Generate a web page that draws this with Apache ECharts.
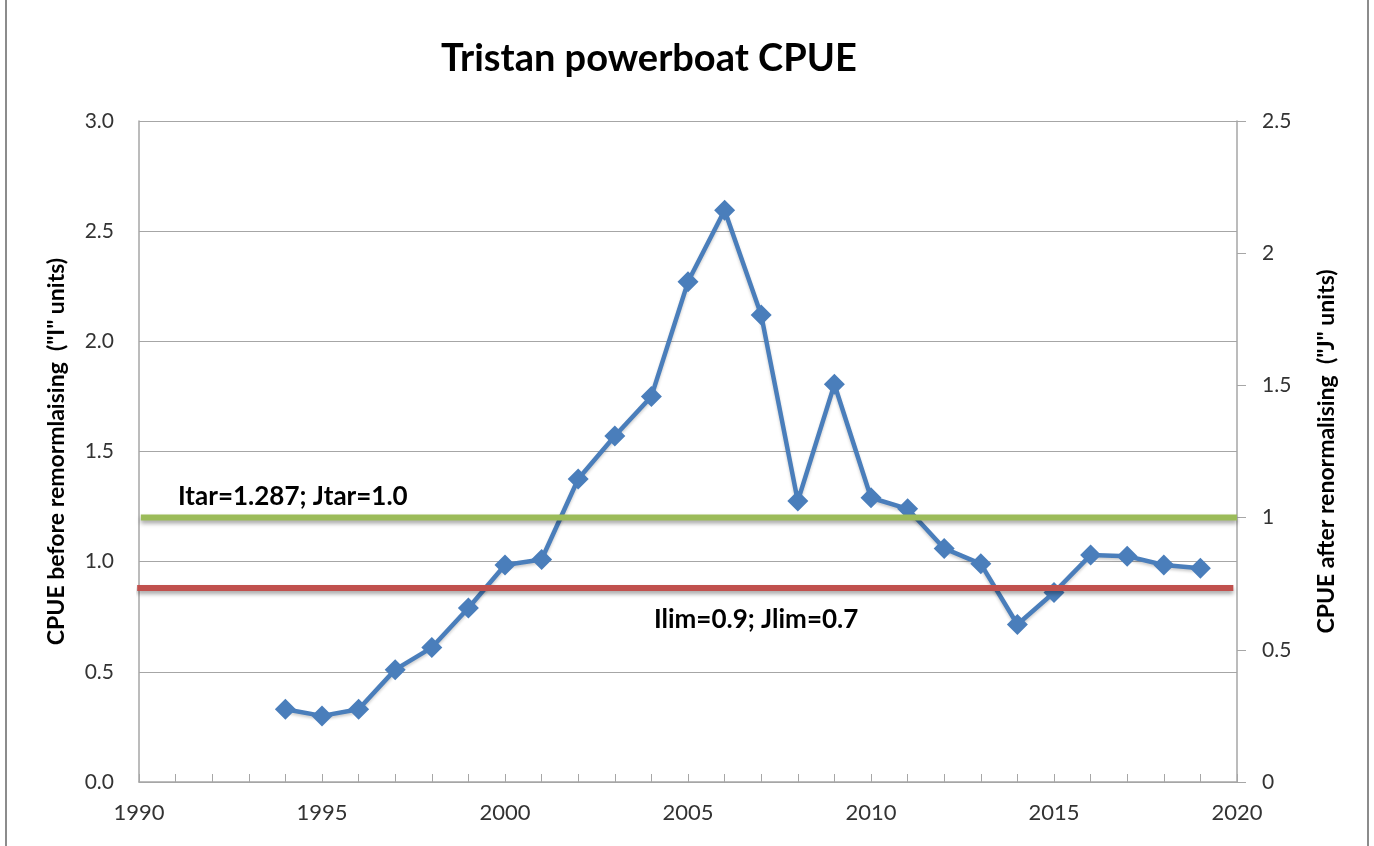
<!DOCTYPE html>
<html>
<head>
<meta charset="utf-8">
<script src="https://cdn.jsdelivr.net/npm/echarts@6/dist/echarts.min.js"></script>
<style>
  html, body { margin: 0; padding: 0; background: #fff; }
  #chart { width: 1374px; height: 846px; }
</style>
</head>
<body>
<div id="chart"></div>
<script>
// CPUE, left axis ("I" units)
const years = [1994, 1995, 1996, 1997, 1998, 1999, 2000, 2001, 2002, 2003, 2004, 2005, 2006,
  2007, 2008, 2009, 2010, 2011, 2012, 2013, 2014, 2015, 2016, 2017, 2018, 2019];
const cpue = [0.33, 0.30, 0.33, 0.51, 0.61, 0.79, 0.985, 1.01, 1.375, 1.57, 1.75, 2.27, 2.595,
  2.12, 1.275, 1.805, 1.29, 1.24, 1.06, 0.99, 0.715, 0.86, 1.03, 1.025, 0.985, 0.97];

// reference lines: target on the right axis (J), limit on the left axis (I)
const tarYears = [1990.05, 2020];
const tarJ = 1.0;
const limYears = [1989.95, 2019.9];
const limI = 0.88;

const leftTicks = [0, 0.5, 1.0, 1.5, 2.0, 2.5, 3.0];
const rightTicks = [0, 0.5, 1, 1.5, 2, 2.5];

const grey = '#a6a6a6';
const font = 'Lato, "Open Sans", sans-serif';

const chart = echarts.init(document.getElementById('chart'));

chart.setOption({
  animation: false,
  title: {
    text: 'Tristan powerboat CPUE',
    left: 436,
    top: 35,
    textStyle: { fontFamily: font, fontSize: 38, fontWeight: 'bold', color: '#000' }
  },
  grid: { left: 139, right: 137, top: 121, bottom: 64 },
  xAxis: {
    type: 'value',
    min: 1990,
    max: 2020,
    interval: 1,
    axisLine: { lineStyle: { color: grey, width: 1.5 } },
    axisTick: { show: true, inside: true, length: 8, lineStyle: { color: grey } },
    axisLabel: {
      margin: 20,
      fontFamily: font, fontSize: 22, color: '#333',
      formatter: v => (v % 5 === 0 ? String(v) : '')
    },
    splitLine: { show: false }
  },
  yAxis: [
    {
      type: 'value',
      min: leftTicks[0],
      max: leftTicks[leftTicks.length - 1],
      interval: 0.5,
      name: 'CPUE before remormlaising  ("I" units)',
      nameLocation: 'middle',
      nameGap: 71,
      nameTextStyle: { fontFamily: font, fontSize: 23, fontWeight: 'bold', color: '#000' },
      axisLine: { show: true, lineStyle: { color: grey, width: 1.5 } },
      axisTick: { show: false },
      axisLabel: { margin: 25, fontFamily: font, fontSize: 21, color: '#333', formatter: v => v.toFixed(1) },
      splitLine: { show: true, lineStyle: { color: grey, width: 1.2 } }
    },
    {
      type: 'value',
      min: rightTicks[0],
      max: rightTicks[rightTicks.length - 1],
      interval: 0.5,
      name: 'CPUE after renormalising  ("J" units)',
      nameLocation: 'middle',
      nameGap: 78,
      nameRotate: 90,
      nameTextStyle: { fontFamily: font, fontSize: 23, fontWeight: 'bold', color: '#000' },
      axisLine: { show: true, lineStyle: { color: grey, width: 1.5 } },
      axisTick: { show: true, length: 9, lineStyle: { color: grey } },
      axisLabel: { margin: 25, fontFamily: font, fontSize: 21, color: '#333' },
      splitLine: { show: false }
    }
  ],
  series: [
    {
      name: 'CPUE',
      type: 'line',
      yAxisIndex: 0,
      data: years.map((y, i) => [y, cpue[i]]),
      symbol: 'diamond',
      symbolSize: [21, 21],
      lineStyle: { color: '#4a7ebb', width: 4.5, shadowColor: 'rgba(0,0,0,0.2)', shadowBlur: 3, shadowOffsetY: 2 },
      itemStyle: { color: '#4a7ebb' },
      z: 2
    },
    {
      name: 'Itar',
      type: 'line',
      yAxisIndex: 1,
      data: tarYears.map(x => [x, tarJ]),
      symbol: 'none',
      clip: false,
      lineStyle: { color: '#9bbb59', width: 6, shadowColor: 'rgba(0,0,0,0.35)', shadowBlur: 4, shadowOffsetY: 3 },
      z: 3
    },
    {
      name: 'Ilim',
      type: 'line',
      yAxisIndex: 0,
      data: limYears.map(x => [x, limI]),
      symbol: 'none',
      clip: false,
      lineStyle: { color: '#c0504d', width: 6, shadowColor: 'rgba(0,0,0,0.35)', shadowBlur: 4, shadowOffsetY: 3 },
      z: 3
    }
  ],
  graphic: [
    // outer frame of the chart area
    { type: 'line', shape: { x1: 6, y1: 0, x2: 6, y2: 846 }, style: { stroke: '#8c8c8c', lineWidth: 2 } },
    { type: 'line', shape: { x1: 1368, y1: 0, x2: 1368, y2: 846 }, style: { stroke: '#8c8c8c', lineWidth: 2 } },
    {
      type: 'text', left: 178, top: 484,
      style: { text: 'Itar=1.287; Jtar=1.0', font: 'bold 26px ' + font, fill: '#000' }
    },
    {
      type: 'text', left: 654, top: 607,
      style: { text: 'Ilim=0.9; Jlim=0.7', font: 'bold 26px ' + font, fill: '#000' }
    }
  ]
});
</script>
</body>
</html>
